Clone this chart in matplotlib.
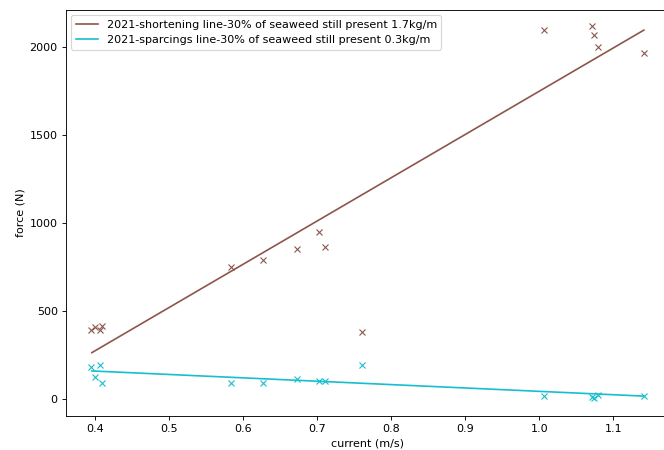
import matplotlib
matplotlib.use("Agg")
import matplotlib.pyplot as plt

current = [0.395, 0.400, 0.407, 0.409, 0.584, 0.627, 0.673, 0.702, 0.710, 0.760,
           1.006, 1.071, 1.074, 1.080, 1.141]
force_shortening = [393, 412, 393, 416, 752, 790, 853, 948, 862, 382,
                    2097, 2120, 2068, 2002, 1964]
force_sparcings = [182, 127, 192, 93, 91, 93, 112, 104, 101, 192,
                   17, 11, 4, 21, 19]

fit_x = [0.3955, 1.1415]
fit_shortening = [264, 2097]
fit_sparcings = [160, 17]

label_short = "2021-shortening line-30% of seaweed still present 1.7kg/m"
label_spar = "2021-sparcings line-30% of seaweed still present 0.3kg/m"

fig = plt.figure(figsize=(664 / 80, 450 / 80), dpi=80)
ax = fig.add_axes([65.5 / 664, 34 / 450, 604.5 / 664, 406.5 / 450])

ax.plot(fit_x, fit_shortening, color="tab:brown", label=label_short)
ax.plot(current, force_shortening, "x", color="tab:brown")
ax.plot(fit_x, fit_sparcings, color="tab:cyan", label=label_spar)
ax.plot(current, force_sparcings, "x", color="tab:cyan")

ax.set_xlim(0.3599, 1.1768)
ax.set_ylim(-96, 2214)
ax.set_xlabel("current (m/s)")
ax.set_ylabel("force (N)")
ax.legend(loc="upper left")

fig.savefig("out.png", dpi=80)
